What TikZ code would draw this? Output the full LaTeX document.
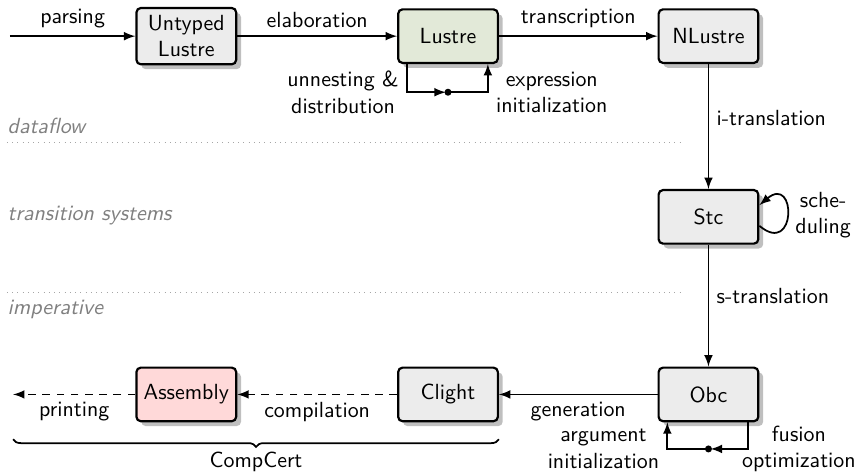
\documentclass[tikz,border=0pt]{standalone}
\usepackage{tikz}
\usetikzlibrary{calc,positioning,shadows,decorations.pathreplacing}
\usepackage{xcolor}
\definecolor{lustregreen}{RGB}{226,233,216}
\definecolor{asmred}{RGB}{255,217,217}
\renewcommand{\familydefault}{\sfdefault}

\begin{document}
\begin{tikzpicture}[>=latex, thick,
  lang/.style={draw, line width=1pt, rounded corners=2pt, fill=gray!15, drop shadow,
    minimum width=1.6cm, minimum height=0.86cm, align=center},
  level/.style={gray, font=\itshape, anchor=west, inner sep=0pt},
  sep/.style={dotted, gray!70, thin}]
\useasboundingbox (0,0) rectangle (13.77,-7.58);
% levels
\draw [sep] (0.11,-2.28) -- (10.96,-2.28);
\draw [sep] (0.11,-4.69) -- (10.96,-4.69);
\node [level] (dataflow) at (0.11,-2.02) {dataflow};
\node [level] (transition) at (0.11,-3.46) {transition systems};
\node [level] (imperative) at (0.11,-4.97) {imperative};
% languages
\node [lang] (untyped) at (2.99,-0.58) {Untyped\\Lustre};
\node [lang, fill=lustregreen] (lustre) at (7.19,-0.58) {Lustre};
\node [lang] (nlustre) at (11.37,-0.58) {NLustre};
\node [lang] (stc) at (11.37,-3.48) {Stc};
\node [lang] (obc) at (11.37,-6.33) {Obc};
\node [lang] (clight) at (7.19,-6.33) {Clight};
\node [lang, fill=asmred] (asm) at (2.99,-6.33) {Assembly};
\coordinate (src) at (0.16,-0.58);
\coordinate (out) at (0.21,-6.33);
% passes
\draw [->] (src) -- node [above] {parsing} (untyped);
\draw [->] (untyped) -- node [above] {elaboration} (lustre);
\draw [->] (lustre) -- node [above] {transcription} (nlustre);
\draw [->] (nlustre) -- node [right, pos=.43] {i-translation} (stc);
\draw [->] (stc.-10) to [out=-40, in=40, looseness=6]
  node [right, align=center] {sche-\\duling} (stc.13);
\draw [->] (stc) -- node [right, pos=.42] {s-translation} (obc);
\draw [->] (obc) -- node [below] {generation} (clight);
\draw [->, dash pattern=on 3.5pt off 3pt] (clight) -- node [below] {compilation} (asm);
\draw [->, dash pattern=on 3.5pt off 3pt] (asm) -- node [below] {printing} (out);
% lustre to lustre
\coordinate (ldot) at ($(lustre.center)+(0,-0.9)$);
\draw [->, shorten >=1pt] ($(lustre.south)+(-0.66,0)$) |-
  node [pos=.5, left, align=center] {unnesting \&\\distribution} (ldot);
\draw [->] (ldot) -|
  node [pos=.5, right, align=center] {expression\\initialization} ($(lustre.south)+(0.64,0)$);
\fill (ldot) circle [radius=1.6pt];
% obc to obc
\coordinate (odot) at ($(obc.center)+(0,-0.875)$);
\draw [->, shorten >=1pt] ($(obc.south)+(0.64,0)$) |-
  node [pos=.5, right=-0.23cm, align=center] {fusion\\optimization} (odot);
\draw [->] (odot) -|
  node [pos=.5, left, align=center] {argument\\initialization} ($(obc.south)+(-0.66,0)$);
\fill (odot) circle [radius=1.6pt];
% compcert
\draw [decorate, decoration={brace, mirror, amplitude=3.5pt}]
  ($(out)+(0,-0.72)$) -- node [below=2pt] {CompCert} ($(clight.east)+(0,-0.72)$);
\end{tikzpicture}
\end{document}
